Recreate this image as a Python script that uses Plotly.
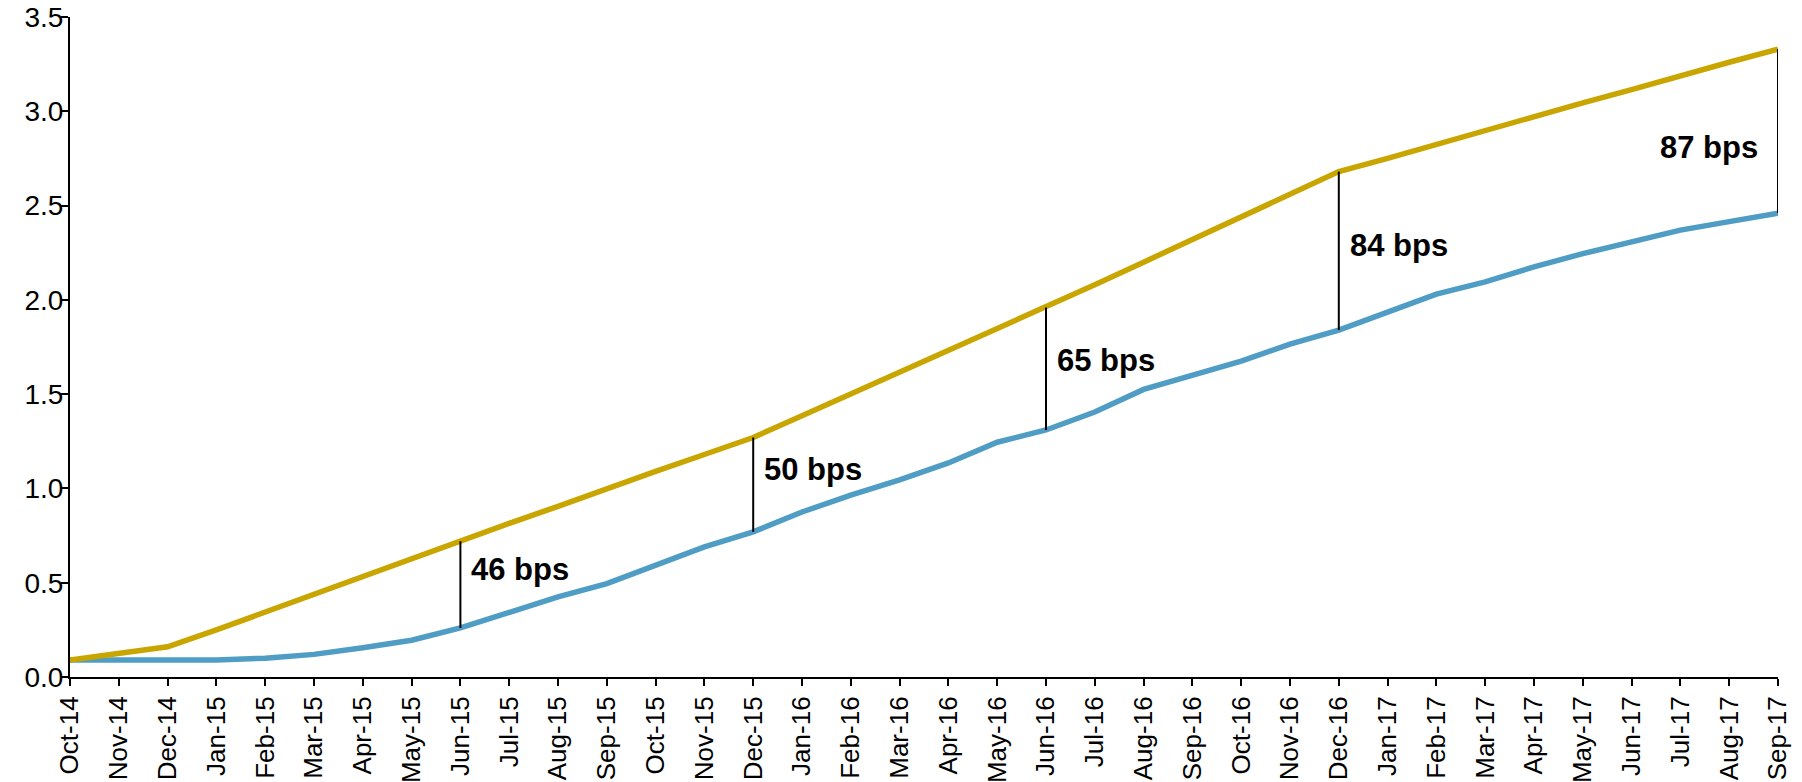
import plotly.graph_objects as go

months = [
    "Oct-14", "Nov-14", "Dec-14", "Jan-15", "Feb-15", "Mar-15", "Apr-15", "May-15", "Jun-15",
    "Jul-15", "Aug-15", "Sep-15", "Oct-15", "Nov-15", "Dec-15", "Jan-16", "Feb-16", "Mar-16",
    "Apr-16", "May-16", "Jun-16", "Jul-16", "Aug-16", "Sep-16", "Oct-16", "Nov-16", "Dec-16",
    "Jan-17", "Feb-17", "Mar-17", "Apr-17", "May-17", "Jun-17", "Jul-17", "Aug-17", "Sep-17",
]

upper = [
    0.09, 0.125, 0.16, 0.25, 0.345, 0.44, 0.535, 0.63, 0.72,
    0.815, 0.905, 1.0, 1.09, 1.18, 1.27, 1.385, 1.50, 1.615,
    1.73, 1.845, 1.96, 2.08, 2.20, 2.32, 2.44, 2.56, 2.68,
    2.75, 2.825, 2.90, 2.97, 3.045, 3.115, 3.19, 3.26, 3.33,
]

lower = [
    0.09, 0.09, 0.09, 0.09, 0.10, 0.12, 0.155, 0.195, 0.26,
    0.345, 0.425, 0.495, 0.595, 0.69, 0.77, 0.875, 0.965, 1.045,
    1.135, 1.245, 1.31, 1.405, 1.525, 1.60, 1.675, 1.765, 1.84,
    1.935, 2.03, 2.095, 2.175, 2.245, 2.305, 2.37, 2.415, 2.46,
]

# Months where the gap between the two curves is marked
gap_months = ["Jun-15", "Dec-15", "Jun-16", "Dec-16", "Sep-17"]
gap_labels = ["46 bps", "50 bps", "65 bps", "84 bps", "87 bps"]
gap_label_y = [0.57, 1.10, 1.68, 2.29, 2.81]

GOLD = "#C9A500"
BLUE = "#4F9DC4"
FONT = "Liberation Sans, Arial, sans-serif"

fig = go.Figure()

x_idx = list(range(len(months)))

fig.add_trace(go.Scatter(x=x_idx, y=lower, mode="lines",
                         line=dict(color=BLUE, width=5.5), showlegend=False))
fig.add_trace(go.Scatter(x=x_idx, y=upper, mode="lines",
                         line=dict(color=GOLD, width=5.5), showlegend=False))

for m, lab, ly in zip(gap_months, gap_labels, gap_label_y):
    i = months.index(m)
    fig.add_shape(type="line", x0=i, x1=i, y0=lower[i], y1=upper[i],
                  line=dict(color="black", width=2), layer="above")
    last = i == len(months) - 1
    fig.add_annotation(
        x=i, y=ly, text="<b>%s</b>" % lab, showarrow=False,
        xanchor="right" if last else "left",
        xshift=-18 if last else 9,
        font=dict(family=FONT, size=31, color="black"),
    )

fig.update_layout(
    width=1802, height=782,
    margin=dict(l=70, r=24, t=17, b=105),
    paper_bgcolor="white", plot_bgcolor="white",
    font=dict(family=FONT, size=26, color="black"),
    xaxis=dict(
        range=[0, len(months) - 1],
        tickmode="array", tickvals=x_idx, ticktext=months,
        tickangle=-90, automargin=False,
        tickfont=dict(family=FONT, size=26, color="black"),
        showgrid=False, zeroline=False,
        showline=True, linecolor="black", linewidth=2,
        ticks="outside", ticklen=7, tickwidth=2, tickcolor="black",
    ),
    yaxis=dict(
        range=[0, 3.5], automargin=False,
        tickfont=dict(family=FONT, size=28, color="black"),
        ticklabelstandoff=-8,
        tickmode="array", tickvals=[0, 0.5, 1, 1.5, 2, 2.5, 3, 3.5],
        ticktext=["0.0", "0.5", "1.0", "1.5", "2.0", "2.5", "3.0", "3.5"],
        showgrid=False, zeroline=False,
        showline=True, linecolor="black", linewidth=2,
        ticks="outside", ticklen=7, tickwidth=2, tickcolor="black",
    ),
)

fig.write_html("out.html")
